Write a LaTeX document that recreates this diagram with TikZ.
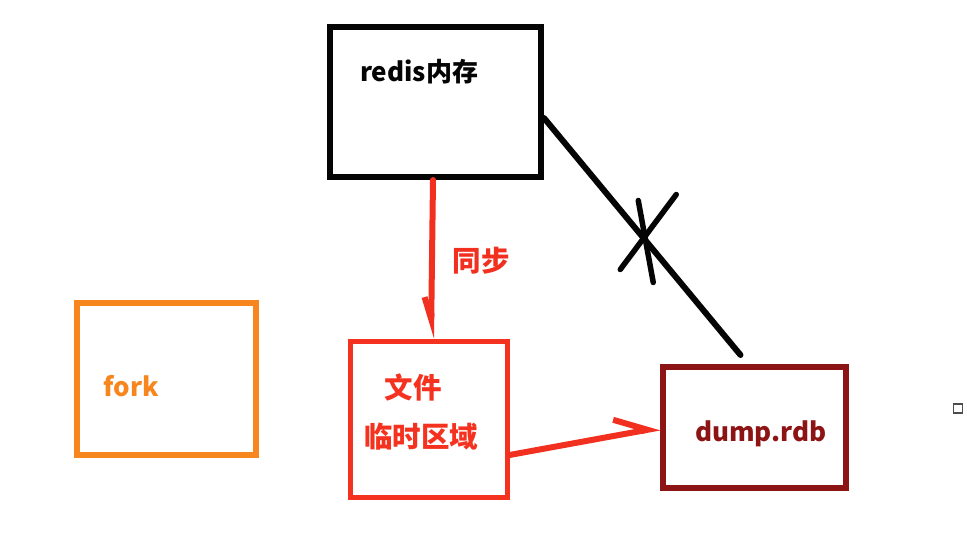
\documentclass[tikz,border=0pt]{standalone}
\usepackage{fontspec}
\setmainfont{Noto Sans CJK SC}
\usetikzlibrary{arrows.meta}
\definecolor{memblack}{HTML}{050505}
\definecolor{syncred}{HTML}{F2301F}
\definecolor{tmpred}{HTML}{F4321F}
\definecolor{dumpred}{HTML}{8C1414}
\definecolor{forkorange}{HTML}{F7861E}
\begin{document}
\begin{tikzpicture}[x=1pt, y=-1pt, line cap=round]
        \tikzstyle{every node}=[font=\fontsize{26}{30}\selectfont\bfseries, inner sep=0pt]
        \tikzstyle{cjk}=[font=\fontsize{28.5}{32}\selectfont\bfseries]
        \tikzstyle{box}=[draw, line width=6pt, line cap=butt, minimum width=#1]
        \tikzstyle{harp}=[line width=6pt]
        \useasboundingbox (0,0) rectangle (967,551);
        \node [box=211pt, minimum height=150pt, draw=memblack] (mem) at (435.5,102) {};
        \node [box=157pt, minimum height=156pt, draw=tmpred, line width=5pt] (tmp) at (428.5,419) {};
        \node [box=183pt, minimum height=121pt, draw=dumpred] (dump) at (754.5,427.5) {};
        \node [box=179pt, minimum height=152pt, draw=forkorange] (fork) at (166.5,379) {};
        \node [text=memblack] (memtext) at (419,72) {redis内存};
        \node [cjk, text=syncred] (synctext) at (481,261) {同步};
        \node [cjk, text=tmpred] (tmptexta) at (413,387) {文件};
        \node [cjk, text=tmpred] (tmptextb) at (421,437) {临时区域};
        \node [text=dumpred] (dumptext) at (761,434) {dump.rdb};
        \node [text=forkorange] (forktext) at (131,386) {fork};
        \node [draw=black!70, line width=1.5pt, minimum size=9pt, font=\tiny] (dot) at (958,408.5) {};
        \draw [harp, syncred, -{Straight Barb[harpoon,swap,length=22pt,width=14pt]}] ([xshift=-2.5pt]mem.south) -- ([xshift=2.5pt]tmp.north);
        \draw [harp, syncred, -{Straight Barb[harpoon,length=32pt,width=32pt]}] ([yshift=-36pt]tmp.east) -- (dump.west);
        \draw [line width=6pt, memblack] ([yshift=-16pt]mem.east) -- coordinate[pos=0.5] (cut) ([xshift=-14pt,yshift=9pt]dump.north);
        \draw [line width=5.5pt, memblack] ([shift={(-22,33)}]cut) -- ([shift={(34,-42)}]cut);
        \draw [line width=5.5pt, memblack] ([shift={(-4,-36)}]cut) -- ([shift={(11,46)}]cut);
\end{tikzpicture}
\end{document}
